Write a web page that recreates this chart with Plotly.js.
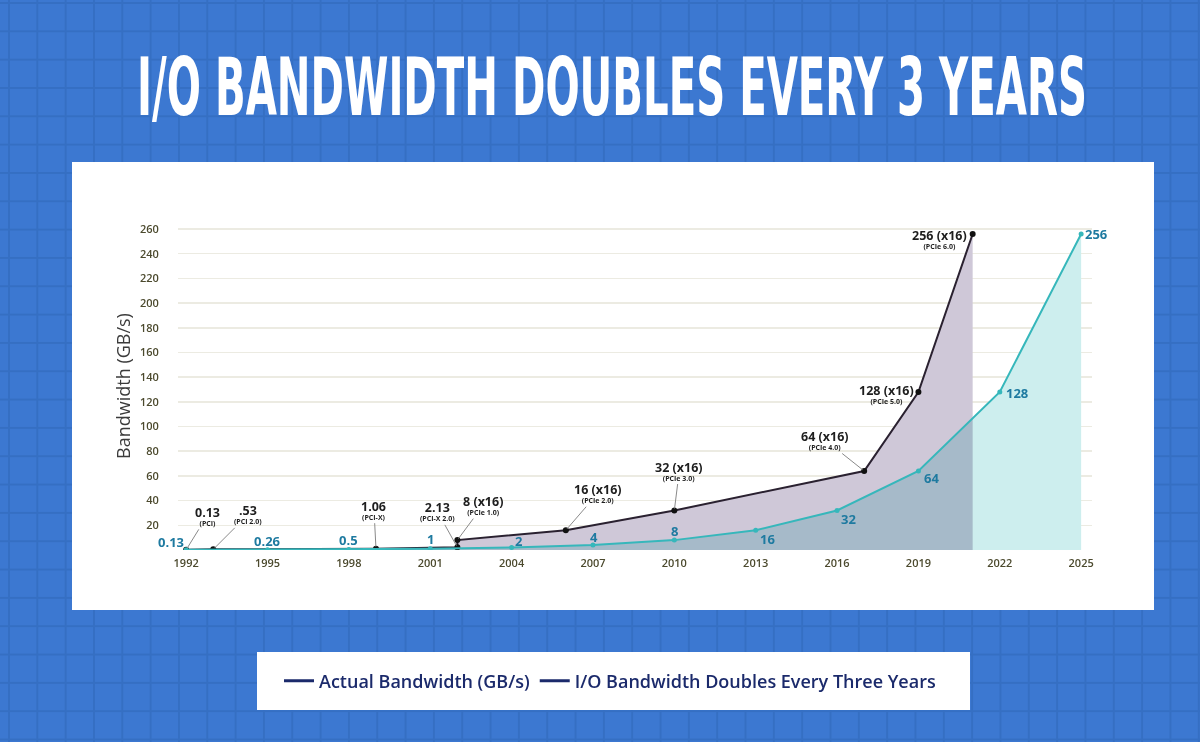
<!DOCTYPE html>
<html>
<head>
<meta charset="utf-8">
<script src="https://cdn.plot.ly/plotly-3.0.1.min.js"></script>
<style>
  html, body { margin: 0; padding: 0; overflow: hidden; }
  body {
    width: 1200px; height: 742px;
    background-color: #3c78d1;
    background-image:
      linear-gradient(#356fc3 2px, transparent 2px),
      linear-gradient(90deg, #356fc3 2px, transparent 2px);
    background-size: 28.33px 28.33px;
    background-position: 8px 2px;
  }
  #chart { width: 1200px; height: 742px; }
  /* fills multiply so the overlap gets the darker grey-blue */
  #chart .js-fill { mix-blend-mode: multiply; }
</style>
</head>
<body>
<div id="chart"></div>
<script>
// Actual PCI / PCIe bandwidth
const actualYears = [1992, 1993, 1999, 2002, 2002, 2006, 2010, 2017, 2019, 2021];
const actualBw = [0.13, 0.53, 1.06, 2.13, 8, 16, 32, 64, 128, 256];
const actualLabels = ['0.13', '.53', '1.06', '2.13', '8 (x16)', '16 (x16)', '32 (x16)', '64 (x16)', '128 (x16)', '256 (x16)'];
const actualSpecs = ['(PCI)', '(PCI 2.0)', '(PCI-X)', '(PCI-X 2.0)', '(PCIe 1.0)', '(PCIe 2.0)', '(PCIe 3.0)', '(PCIe 4.0)', '(PCIe 5.0)', '(PCIe 6.0)'];

// I/O bandwidth doubling every three years
const trendYears = [1992, 1995, 1998, 2001, 2004, 2007, 2010, 2013, 2016, 2019, 2022, 2025];
const trendBw = [0.13, 0.26, 0.5, 1, 2, 4, 8, 16, 32, 64, 128, 256];
const trendLabels = ['0.13', '0.26', '0.5', '1', '2', '4', '8', '16', '32', '64', '128', '256'];

const yTicks = [20, 40, 60, 80, 100, 120, 140, 160, 180, 200, 220, 240, 260];
const xTicks = [1992, 1995, 1998, 2001, 2004, 2007, 2010, 2013, 2016, 2019, 2022, 2025];

// label placement (pixels, label centre relative to point)
const actualOffsets = [[21, -34], [35, -35], [-2, -39], [-20, -36], [26, -35], [32, -37], [5, -40], [-39, -31], [-32, 2], [-33, 5]];
const actualLeader = [true, true, true, true, true, true, true, true, false, false];
const trendOffsets = [[-15, -8], [0, -9], [0, -9], [0, -10], [7, -7], [1, -8], [0, -9], [12, 9], [11, 8], [13, 7], [17, 1], [15, 0]];

const navy = '#1b2a6b';
const teal = '#36b7bb';

const traces = [
  {x: trendYears, y: trendBw, type: 'scatter', mode: 'lines', fill: 'tozeroy',
   fillcolor: '#cdeeee', line: {width: 0}, showlegend: false, hoverinfo: 'skip'},
  {x: actualYears, y: actualBw, type: 'scatter', mode: 'lines', fill: 'tozeroy',
   fillcolor: '#cfc8d8', line: {width: 0}, showlegend: false, hoverinfo: 'skip'},
  {x: actualYears, y: actualBw, type: 'scatter', mode: 'lines+markers',
   line: {color: '#2a2130', width: 2}, marker: {color: '#111', size: 6}, showlegend: false},
  {x: trendYears, y: trendBw, type: 'scatter', mode: 'lines+markers',
   line: {color: teal, width: 2}, marker: {color: teal, size: 5}, showlegend: false},
  // legend entries (both drawn navy in the original)
  {x: [null], y: [null], type: 'scatter', mode: 'lines', name: 'Actual Bandwidth (GB/s)',
   line: {color: navy, width: 3}},
  {x: [null], y: [null], type: 'scatter', mode: 'lines', name: 'I/O Bandwidth Doubles Every Three Years',
   line: {color: navy, width: 3}}
];

const annotations = [];
actualYears.forEach((yr, i) => {
  annotations.push({
    x: yr, y: actualBw[i], xref: 'x', yref: 'y',
    text: '<span style="font-size:12.5px">' + actualLabels[i] + '</span><br>' + actualSpecs[i],
    showarrow: true, arrowhead: 0, arrowwidth: 1, standoff: 2,
    arrowcolor: actualLeader[i] ? '#8a8a8a' : 'rgba(0,0,0,0)',
    ax: actualOffsets[i][0], ay: actualOffsets[i][1],
    font: {family: 'Open Sans, sans-serif', size: 7, color: '#1e1e1e', weight: 700}
  });
});
trendYears.forEach((yr, i) => {
  annotations.push({
    x: yr, y: trendBw[i], xref: 'x', yref: 'y',
    text: trendLabels[i], showarrow: false,
    xshift: trendOffsets[i][0], yshift: -trendOffsets[i][1],
    font: {family: 'Open Sans, sans-serif', size: 13, color: '#1e7aa0', weight: 700}
  });
});

const layout = {
  width: 1200, height: 742,
  paper_bgcolor: 'rgba(0,0,0,0)',
  plot_bgcolor: 'rgba(0,0,0,0)',
  margin: {l: 178, r: 108, t: 222, b: 192},
  title: {
    text: 'I/O BANDWIDTH DOUBLES EVERY 3 YEARS',
    x: 0.51, y: 1 - 87 / 742, xanchor: 'center', yanchor: 'middle',
    font: {family: 'DejaVu Sans Condensed, DejaVu Sans, sans-serif', size: 80, color: '#ffffff', weight: 700}
  },
  xaxis: {
    range: [1991.7, 2025.4],
    tickvals: xTicks, showgrid: false, zeroline: false, showline: false,
    ticks: 'outside', ticklen: 3, tickcolor: 'rgba(0,0,0,0)',
    tickfont: {family: 'Open Sans, sans-serif', size: 11, color: '#4c4a2e', weight: 600}
  },
  yaxis: {
    range: [0, 265.7],
    tickvals: yTicks, showgrid: true, gridcolor: '#ecebe2', gridwidth: 1.5,
    zeroline: false, showline: false,
    ticks: 'outside', ticklen: 16, tickcolor: 'rgba(0,0,0,0)',
    tickfont: {family: 'Open Sans, sans-serif', size: 11, color: '#4c4a2e', weight: 600},
    title: {text: 'Bandwidth (GB/s)', standoff: 4,
            font: {family: 'Open Sans, sans-serif', size: 18, color: '#3b3b3b'}}
  },
  showlegend: true,
  legend: {
    orientation: 'h', xref: 'container', yref: 'container',
    x: 610 / 1200, y: 1 - 681 / 742, xanchor: 'center', yanchor: 'middle',
    bgcolor: 'rgba(0,0,0,0)', itemwidth: 30,
    font: {family: 'Open Sans, sans-serif', size: 18, color: navy, weight: 600}
  },
  shapes: [
    // white chart panel
    {type: 'rect', xref: 'paper', yref: 'paper', layer: 'below',
     x0: (72 - 178) / 914, x1: (1154 - 178) / 914,
     y0: (550 - 610) / 328, y1: (550 - 162) / 328,
     fillcolor: '#ffffff', line: {width: 0}},
    // white legend box
    {type: 'rect', xref: 'paper', yref: 'paper', layer: 'below',
     x0: (257 - 178) / 914, x1: (970 - 178) / 914,
     y0: (550 - 710) / 328, y1: (550 - 652) / 328,
     fillcolor: '#ffffff', line: {width: 0}}
  ],
  annotations: annotations
};

Plotly.newPlot('chart', traces, layout, {displayModeBar: false, staticPlot: true}).then(gd => {
  // squeeze the title into the narrow poster lettering width
  const t = gd.querySelector('.gtitle');
  if (t) {
    const w = t.getBBox().width;
    t.style.transformBox = 'fill-box';
    t.style.transformOrigin = 'center';
    t.style.transform = 'scaleX(' + (950 / w) + ')';
  }
});
</script>
</body>
</html>
